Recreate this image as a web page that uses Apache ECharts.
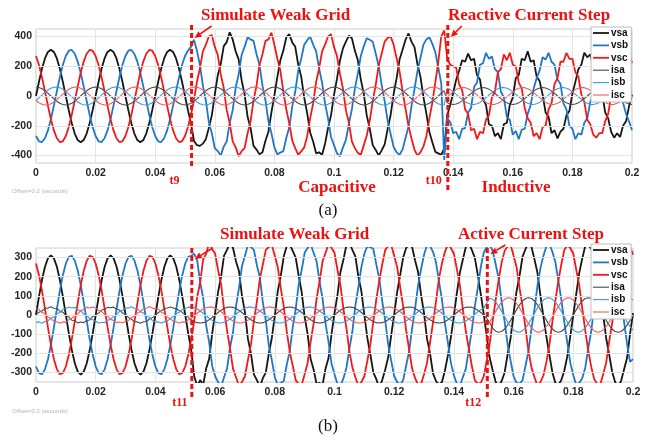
<!DOCTYPE html>
<html>
<head>
<meta charset="utf-8">
<script src="https://cdn.jsdelivr.net/npm/echarts@6/dist/echarts.min.js"></script>
<style>
  html, body { margin: 0; padding: 0; background: #ffffff; }
  #chart { width: 654px; height: 439px; }
</style>
</head>
<body>
<div id="chart"></div>
<script>
// Scope capture: one sample every millisecond, 0 .. 0.2 s
const sampleStep = 0.001;
const seriesNames = ['vsa', 'vsb', 'vsc', 'isa', 'isb', 'isc'];
const yTicksA = [-400, -200, 0, 200, 400];
const yTicksB = [-300, -200, -100, 0, 100, 200, 300];
// t9, t10 (panel a) and t11, t12 (panel b), seconds
const eventTimesA = [0.0522, 0.1382];
const eventTimesB = [0.0522, 0.1512];

// ---- (a) weak grid, then reactive current step (capacitive -> inductive)
const vsaA = [
  0, 96, 183, 252, 296, 311, 296, 252, 183, 96, 0, -96, -183, -252, -296, -311, -296, -252, -183, -96,
  0, 96, 183, 252, 296, 311, 296, 252, 183, 96, 0, -96, -183, -252, -296, -311, -296, -252, -183, -96,
  0, 96, 183, 252, 296, 311, 296, 252, 183, 96, 0, -96, -183, -300, -330, -335, -320, -290, -214, -130,
  10, 140, 215, 335, 362, 428, 380, 300, 246, 105, 12, -140, -215, -335, -360, -392, -378, -300, -240, -110,
  5, 128, 240, 305, 395, 415, 360, 330, 210, 130, -10, -115, -245, -305, -385, -378, -395, -320, -215, -130,
  8, 115, 238, 320, 365, 405, 388, 305, 240, 110, 15, -132, -220, -330, -362, -400, -365, -325, -222, -128,
  12, 118, 245, 310, 378, 420, 365, 328, 215, 130, -5, -118, -240, -310, -375, -385, -395, -350, -130, -60,
  20, 110, 170, 240, 230, 285, 240, 250, 140, 110, -20, -60, -190, -200, -270, -250, -290, -190, -180, -60,
  -10, 120, 140, 250, 240, 300, 230, 240, 130, 100, 10, -110, -140, -250, -230, -285, -240, -220, -130, -100,
  15, 95, 180, 210, 290, 260, 280, 200, 180, 60, 20, -110, -150, -240, -280, -250, -275, -200, -170, -70,
  10
];
const vsbA = [
  -269, -304, -309, -284, -231, -156, -65, 32, 127, 208, 269, 304, 309, 284, 231, 156, 65, -32, -127, -208,
  -269, -304, -309, -284, -231, -156, -65, 32, 127, 208, 269, 304, 309, 284, 231, 156, 65, -32, -127, -208,
  -269, -304, -309, -284, -231, -156, -65, 32, 127, 208, 269, 304, 330, 378, 305, 210, 70, -30, -175, -250,
  -350, -370, -400, -340, -305, -180, -95, 55, 145, 275, 330, 395, 380, 370, 280, 210, 70, -30, -170, -250,
  -345, -392, -380, -370, -280, -210, -70, 30, 170, 250, 345, 375, 400, 345, 300, 185, 90, -50, -150, -275,
  -330, -385, -405, -345, -295, -185, -90, 50, 150, 270, 335, 388, 378, 365, 285, 200, 75, -35, -165, -255,
  -342, -378, -395, -360, -282, -205, -70, 45, 165, 255, 345, 380, 395, 350, 295, 190, 85, -430, -150, -175,
  -250, -240, -290, -220, -215, -110, -80, 60, 90, 210, 220, 290, 250, 265, 180, 160, 30, -10, -140, -160,
  -260, -235, -290, -225, -220, -120, -60, 50, 120, 170, 260, 245, 290, 230, 210, 110, 80, -50, -90, -200,
  -220, -290, -250, -260, -180, -150, -40, 10, 140, 160, 250, 280, 250, 270, 185, 120, 70, -45, -120, -170,
  -230
];
const vscA = [
  269, 208, 127, 32, -65, -156, -231, -284, -309, -304, -269, -208, -127, -32, 65, 156, 231, 284, 309, 304,
  269, 208, 127, 32, -65, -156, -231, -284, -309, -304, -269, -208, -127, -32, 65, 156, 231, 284, 309, 304,
  269, 208, 127, 32, -65, -156, -231, -284, -309, -304, -269, -208, -127, -30, 95, 185, 300, 345, 400, 410,
  330, 275, 145, 55, -95, -180, -305, -345, -405, -370, -350, -250, -170, -30, 70, 210, 280, 370, 380, 425,
  345, 250, 170, 30, -90, -185, -300, -350, -395, -372, -345, -270, -150, -50, 95, 185, 300, 345, 400, 415,
  330, 268, 150, 50, -95, -180, -305, -350, -382, -395, -330, -265, -165, -35, 75, 205, 285, 365, 390, 400,
  345, 255, 165, 35, -85, -200, -285, -360, -400, -378, -340, -270, -150, -45, 90, 230, 400, 440, 250, 210,
  200, 190, 80, 40, -90, -120, -230, -220, -290, -240, -250, -160, -130, -10, 30, 160, 180, 280, 240, 290,
  210, 200, 90, 50, -80, -150, -180, -270, -250, -290, -210, -200, -90, -50, 80, 120, 230, 230, 290, 250,
  250, 160, 130, 10, -40, -160, -190, -260, -280, -250, -250, -170, -120, 0, 40, 150, 190, 260, 250, 290,
  220
];
const isaA = [
  60, 57, 49, 35, 19, 0, -19, -35, -49, -57, -60, -57, -49, -35, -19, 0, 19, 35, 49, 57,
  60, 57, 49, 35, 19, 0, -19, -35, -49, -57, -60, -57, -49, -35, -19, 0, 19, 35, 49, 57,
  60, 57, 49, 35, 19, 0, -19, -35, -49, -57, -60, -57, -49, -35, -19, 0, 19, 35, 49, 57,
  60, 57, 49, 35, 19, 0, -19, -35, -49, -57, -60, -57, -49, -35, -19, 0, 19, 35, 49, 57,
  60, 57, 49, 35, 19, 0, -19, -35, -49, -57, -60, -57, -49, -35, -19, 0, 19, 35, 49, 57,
  60, 57, 49, 35, 19, 0, -19, -35, -49, -57, -60, -57, -49, -35, -19, 0, 19, 35, 49, 57,
  60, 57, 49, 35, 19, 0, -19, -35, -49, -57, -60, -57, -49, -35, -19, 0, 19, 35, -46, -54,
  -57, -54, -46, -33, -18, 0, 18, 33, 46, 54, 57, 54, 46, 33, 18, 0, -18, -33, -46, -54,
  -57, -54, -46, -33, -18, 0, 18, 33, 46, 54, 57, 54, 46, 33, 18, 0, -18, -33, -46, -54,
  -57, -54, -46, -33, -18, 0, 18, 33, 46, 54, 57, 54, 46, 33, 18, 0, -18, -33, -46, -54,
  -57
];
const isbA = [
  -30, -12, 6, 24, 40, 52, 59, 60, 55, 45, 30, 12, -6, -24, -40, -52, -59, -60, -55, -45,
  -30, -12, 6, 24, 40, 52, 59, 60, 55, 45, 30, 12, -6, -24, -40, -52, -59, -60, -55, -45,
  -30, -12, 6, 24, 40, 52, 59, 60, 55, 45, 30, 12, -6, -24, -40, -52, -59, -60, -55, -45,
  -30, -12, 6, 24, 40, 52, 59, 60, 55, 45, 30, 12, -6, -24, -40, -52, -59, -60, -55, -45,
  -30, -12, 6, 24, 40, 52, 59, 60, 55, 45, 30, 12, -6, -24, -40, -52, -59, -60, -55, -45,
  -30, -12, 6, 24, 40, 52, 59, 60, 55, 45, 30, 12, -6, -24, -40, -52, -59, -60, -55, -45,
  -30, -12, 6, 24, 40, 52, 59, 60, 55, 45, 30, 12, -6, -24, -40, -52, -59, -60, 52, 43,
  28, 11, -6, -23, -38, -49, -56, -57, -52, -43, -28, -11, 6, 23, 38, 49, 56, 57, 52, 43,
  28, 11, -6, -23, -38, -49, -56, -57, -52, -43, -28, -11, 6, 23, 38, 49, 56, 57, 52, 43,
  28, 11, -6, -23, -38, -49, -56, -57, -52, -43, -28, -11, 6, 23, 38, 49, 56, 57, 52, 43,
  28
];
const iscA = [
  -30, -45, -55, -60, -59, -52, -40, -24, -6, 12, 30, 45, 55, 60, 59, 52, 40, 24, 6, -12,
  -30, -45, -55, -60, -59, -52, -40, -24, -6, 12, 30, 45, 55, 60, 59, 52, 40, 24, 6, -12,
  -30, -45, -55, -60, -59, -52, -40, -24, -6, 12, 30, 45, 55, 60, 59, 52, 40, 24, 6, -12,
  -30, -45, -55, -60, -59, -52, -40, -24, -6, 12, 30, 45, 55, 60, 59, 52, 40, 24, 6, -12,
  -30, -45, -55, -60, -59, -52, -40, -24, -6, 12, 30, 45, 55, 60, 59, 52, 40, 24, 6, -12,
  -30, -45, -55, -60, -59, -52, -40, -24, -6, 12, 30, 45, 55, 60, 59, 52, 40, 24, 6, -12,
  -30, -45, -55, -60, -59, -52, -40, -24, -6, 12, 30, 45, 55, 60, 59, 52, 40, 24, -6, 11,
  28, 43, 52, 57, 56, 49, 38, 23, 6, -11, -28, -43, -52, -57, -56, -49, -38, -23, -6, 11,
  28, 43, 52, 57, 56, 49, 38, 23, 6, -11, -28, -43, -52, -57, -56, -49, -38, -23, -6, 11,
  28, 43, 52, 57, 56, 49, 38, 23, 6, -11, -28, -43, -52, -57, -56, -49, -38, -23, -6, 11,
  28
];

// ---- (b) weak grid, then active current step
const vsaB = [
  0, 96, 183, 252, 296, 311, 296, 252, 183, 96, 0, -96, -183, -252, -296, -311, -296, -252, -183, -96,
  0, 96, 183, 252, 296, 311, 296, 252, 183, 96, 0, -96, -183, -252, -296, -311, -296, -252, -183, -96,
  0, 96, 183, 252, 296, 311, 296, 252, 183, 96, 0, -96, -183, -320, -370, -340, -365, -280, -230, -100,
  10, 120, 200, 310, 340, 380, 350, 280, 230, 100, 15, -125, -200, -310, -340, -375, -330, -300, -200, -120,
  -5, 125, 205, 305, 360, 370, 335, 300, 205, 120, -10, -100, -230, -285, -360, -355, -365, -280, -225, -100,
  10, 105, 225, 290, 365, 375, 340, 305, 200, 125, 0, -120, -205, -300, -335, -380, -340, -285, -220, -105,
  5, 120, 210, 300, 350, 370, 355, 285, 225, 105, 10, -125, -200, -305, -345, -365, -350, -290, -210, -115,
  -5, 115, 220, 290, 355, 375, 340, 300, 210, 110, 5, -110, -225, -290, -350, -370, -345, -300, -205, -120,
  10, 125, 205, 305, 345, 380, 355, 290, 220, 100, -10, -115, -210, -300, -355, -365, -340, -290, -215, -110,
  0, 110, 220, 295, 360, 370, 345, 305, 200, 120, 5, -120, -205, -295, -350, -375, -345, -285, -225, -100,
  10
];
const vsbB = [
  -269, -304, -309, -284, -231, -156, -65, 32, 127, 208, 269, 304, 309, 284, 231, 156, 65, -32, -127, -208,
  -269, -304, -309, -284, -231, -156, -65, 32, 127, 208, 269, 304, 309, 284, 231, 156, 65, -32, -127, -208,
  -269, -304, -309, -284, -231, -156, -65, 32, 127, 208, 269, 304, 309, 320, 285, 170, 90, -55, -140, -265,
  -320, -350, -375, -325, -280, -170, -90, 45, 140, 255, 310, 365, 355, 340, 260, 195, 65, -30, -160, -235,
  -325, -365, -355, -345, -260, -190, -65, 30, 160, 235, 325, 350, 370, 325, 280, 175, 85, -45, -140, -255,
  -310, -360, -370, -330, -275, -175, -85, 50, 145, 250, 320, 360, 355, 345, 265, 190, 70, -30, -155, -240,
  -320, -350, -365, -340, -265, -190, -70, 35, 155, 240, 315, 365, 360, 330, 275, 175, 80, -45, -145, -250,
  -315, -360, -370, -325, -280, -180, -80, 45, 140, 250, 325, 355, 365, 335, 265, 190, 70, -35, -155, -240,
  -320, -355, -360, -340, -265, -185, -70, 30, 155, 245, 310, 360, 370, 330, 275, 180, 80, -40, -145, -250,
  -315, -365, -355, -330, -275, -175, -85, 45, 145, 240, 320, 355, 365, 340, 265, 185, 75, -35, -150, -245,
  -230
];
const vscB = [
  269, 208, 127, 32, -65, -156, -231, -284, -309, -304, -269, -208, -127, -32, 65, 156, 231, 284, 309, 304,
  269, 208, 127, 32, -65, -156, -231, -284, -309, -304, -269, -208, -127, -32, 65, 156, 231, 284, 309, 304,
  269, 208, 127, 32, -65, -156, -231, -284, -309, -304, -269, -208, -127, -30, 95, 170, 290, 320, 375, 345,
  320, 235, 160, 30, -80, -175, -280, -325, -370, -350, -320, -235, -155, -30, 70, 190, 265, 340, 355, 365,
  310, 250, 140, 45, -85, -190, -265, -340, -360, -365, -310, -250, -140, -45, 85, 175, 280, 325, 370, 350,
  325, 235, 155, 30, -70, -190, -275, -325, -370, -350, -320, -240, -155, -35, 80, 180, 265, 340, 360, 365,
  310, 250, 145, 45, -80, -180, -280, -330, -365, -360, -310, -250, -145, -40, 70, 190, 270, 330, 370, 350,
  320, 240, 155, 30, -85, -175, -265, -340, -360, -355, -320, -240, -150, -30, 80, 185, 275, 335, 360, 365,
  310, 250, 140, 45, -70, -190, -275, -325, -370, -350, -315, -245, -155, -35, 75, 180, 265, 340, 365, 350,
  320, 235, 155, 35, -80, -185, -270, -335, -360, -365, -310, -250, -140, -45, 80, 190, 275, 330, 360, 355,
  315
];
const isaB = [
  3, 14, 21, 35, 36, 43, 35, 34, 20, 15, -3, -10, -27, -30, -41, -37, -40, -29, -26, -9,
  2, 10, 26, 30, 40, 38, 41, 30, 26, 10, 2, -14, -22, -35, -36, -43, -35, -34, -21, -14,
  -2, 13, 22, 34, 37, 42, 36, 33, 22, 14, -1, -11, -25, -34, -40, -42, -40, -34, -25, -13,
  0, 13, 25, 34, 40, 42, 40, 34, 25, 13, 0, -13, -25, -34, -40, -42, -40, -34, -25, -13,
  0, 13, 25, 34, 40, 42, 40, 34, 25, 13, 0, -13, -25, -34, -40, -42, -40, -34, -25, -13,
  0, 13, 25, 34, 40, 42, 40, 34, 25, 13, 0, -13, -25, -34, -40, -42, -40, -34, -25, -13,
  0, 13, 25, 34, 40, 42, 40, 34, 25, 13, 0, -13, -25, -34, -40, -42, -40, -34, -25, -13,
  0, 13, 25, 34, 40, 42, 40, 34, 25, 13, 0, -18, -40, -68, -85, -90, -86, -73, -53, -28,
  0, 28, 53, 73, 86, 90, 86, 73, 53, 28, 0, -28, -53, -73, -86, -90, -86, -73, -53, -28,
  0, 28, 53, 73, 86, 90, 86, 73, 53, 28, 0, -28, -53, -73, -86, -90, -86, -73, -53, -28,
  0
];
const isbB = [
  -38, -36, -43, -34, -31, -17, -10, 7, 13, 30, 33, 42, 37, 39, 27, 22, 5, -2, -19, -25,
  -33, -42, -38, -39, -27, -23, -6, 2, 19, 25, 38, 36, 43, 34, 32, 17, 10, -7, -13, -30,
  -36, -37, -42, -35, -32, -18, -9, 6, 14, 29, 34, 41, 42, 38, 31, 21, 9, -4, -17, -28,
  -36, -41, -42, -38, -31, -21, -9, 4, 17, 28, 36, 41, 42, 38, 31, 21, 9, -4, -17, -28,
  -36, -41, -42, -38, -31, -21, -9, 4, 17, 28, 36, 41, 42, 38, 31, 21, 9, -4, -17, -28,
  -36, -41, -42, -38, -31, -21, -9, 4, 17, 28, 36, 41, 42, 38, 31, 21, 9, -4, -17, -28,
  -36, -41, -42, -38, -31, -21, -9, 4, 17, 28, 36, 41, 42, 38, 31, 21, 9, -4, -17, -28,
  -36, -41, -42, -38, -31, -21, -9, 4, 17, 28, 36, 62, 88, 82, 67, 45, 19, -9, -37, -60,
  -78, -88, -90, -82, -67, -45, -19, 9, 37, 60, 78, 88, 90, 82, 67, 45, 19, -9, -37, -60,
  -78, -88, -90, -82, -67, -45, -19, 9, 37, 60, 78, 88, 90, 82, 67, 45, 19, -9, -37, -60,
  -78
];
const iscB = [
  32, 29, 13, 7, -11, -18, -33, -35, -43, -36, -37, -24, -18, -1, 5, 23, 28, 40, 37, 42,
  37, 24, 18, 2, -6, -23, -28, -40, -37, -42, -33, -30, -13, -7, 11, 17, 33, 35, 43, 36,
  33, 29, 14, 6, -10, -21, -32, -36, -42, -37, -36, -25, -17, -4, 9, 21, 31, 38, 42, 41,
  36, 28, 17, 4, -9, -21, -31, -38, -42, -41, -36, -28, -17, -4, 9, 21, 31, 38, 42, 41,
  36, 28, 17, 4, -9, -21, -31, -38, -42, -41, -36, -28, -17, -4, 9, 21, 31, 38, 42, 41,
  36, 28, 17, 4, -9, -21, -31, -38, -42, -41, -36, -28, -17, -4, 9, 21, 31, 38, 42, 41,
  36, 28, 17, 4, -9, -21, -31, -38, -42, -41, -36, -28, -17, -4, 9, 21, 31, 38, 42, 41,
  36, 28, 17, 4, -9, -21, -31, -38, -42, -41, -36, -45, -37, -9, 19, 45, 67, 82, 90, 88,
  78, 60, 37, 9, -19, -45, -67, -82, -90, -88, -78, -60, -37, -9, 19, 45, 67, 82, 90, 88,
  78, 60, 37, 9, -19, -45, -67, -82, -90, -88, -78, -60, -37, -9, 19, 45, 67, 82, 90, 88,
  78
];

// ---- styling
const lineStyles = {
  vsa: { color: '#161616', width: 1.8 },
  vsb: { color: '#1f77c6', width: 1.8 },
  vsc: { color: '#f41818', width: 1.8 },
  isa: { color: '#4a4a4a', width: 1.1 },
  isb: { color: '#3f98de', width: 1.1 },
  isc: { color: '#f25c5e', width: 1.1 }
};
// legend swatches: a horizontal stroke inside a 16x10 box (thick for voltages, thin for currents)
const thickSwatch = 'path://M0,0M0,4.1H16V5.9H0ZM16,10';
const thinSwatch = 'path://M0,0M0,4.45H16V5.55H0ZM16,10';
const gridLineColor = '#e4e4e4';
const annotRed = '#f01010';
const tickFont = { fontFamily: '"Liberation Sans", Arial, sans-serif', fontWeight: 'bold', fontSize: 10.5, color: '#262626' };

const toPairs = arr => arr.map((v, i) => [+(i * sampleStep).toFixed(3), v]);

function panelSeries(columns, axisIndex, yTicks) {
  const list = [{
    type: 'line', xAxisIndex: axisIndex, yAxisIndex: axisIndex, data: [],
    silent: true, z: 1, symbol: 'none',
    markLine: {
      symbol: ['none', 'none'], silent: true, animation: false,
      label: { show: false },
      lineStyle: { color: gridLineColor, width: 1, type: 'solid' },
      data: yTicks.map(v => ({ yAxis: v }))
    }
  }];
  seriesNames.forEach((name, j) => {
    list.push({
      type: 'line', name, xAxisIndex: axisIndex, yAxisIndex: axisIndex,
      data: toPairs(columns[j]),
      symbol: 'none', showSymbol: false, clip: true, z: 2,
      lineStyle: { color: lineStyles[name].color, width: lineStyles[name].width },
      itemStyle: { color: lineStyles[name].color },
      emphasis: { disabled: true }
    });
  });
  return list;
}

function xAxisDef(gridIndex) {
  return {
    type: 'value', gridIndex, min: 0, max: 0.2, interval: 0.02,
    axisLine: { show: false }, axisTick: { show: false },
    splitLine: { show: true, lineStyle: { color: gridLineColor, width: 1 } },
    axisLabel: Object.assign({ margin: 5, formatter: v => String(+v.toFixed(2)) }, tickFont)
  };
}
function yAxisDef(gridIndex, lim, labelStep) {
  return {
    type: 'value', gridIndex, min: -lim, max: lim, interval: 50,
    axisLine: { show: false }, axisTick: { show: false }, splitLine: { show: false },
    axisLabel: Object.assign({ margin: 4, showMinLabel: true, showMaxLabel: true,
      formatter: v => (Math.round(v) % labelStep === 0 ? String(Math.round(v)) : '') }, tickFont)
  };
}
function legendDef(top) {
  return {
    left: 591, top, orient: 'vertical', selectedMode: false, z: 20,
    data: seriesNames.map(name => ({ name, icon: name.charAt(0) === 'v' ? thickSwatch : thinSwatch })),
    itemWidth: 16, itemHeight: 10, itemGap: 2.4, padding: [1, 3, 2, 2],
    backgroundColor: '#ffffff', borderColor: '#bdbdbd', borderWidth: 1, borderRadius: 0,
    textStyle: { fontFamily: '"Liberation Sans", Arial, sans-serif', fontWeight: 'bold', fontSize: 10, lineHeight: 10, color: '#111', padding: [0, 0, 0, -3] }
  };
}

const chart = echarts.init(document.getElementById('chart'), null, { renderer: 'canvas' });
chart.setOption({
  animation: false,
  backgroundColor: '#ffffff',
  grid: [
    { left: 36, top: 29, width: 596, height: 134, show: true, borderColor: '#cccccc', borderWidth: 1, backgroundColor: '#ffffff', containLabel: false, outerBoundsMode: 'none' },
    { left: 36, top: 248, width: 597, height: 134, show: true, borderColor: '#cccccc', borderWidth: 1, backgroundColor: '#ffffff', containLabel: false, outerBoundsMode: 'none' }
  ],
  xAxis: [xAxisDef(0), xAxisDef(1)],
  yAxis: [yAxisDef(0, 450, 200), yAxisDef(1, 350, 100)],
  legend: [legendDef(27), legendDef(244)],
  series: panelSeries([vsaA, vsbA, vscA, isaA, isbA, iscA], 0, yTicksA)
    .concat(panelSeries([vsaB, vsbB, vscB, isaB, isbB, iscB], 1, yTicksB))
});

// ---- annotations placed on the event times through the x scales
const serifBold = size => `bold ${size}px "Liberation Serif", "Times New Roman", serif`;
function label(str, x, y, font, fill, align) {
  return { type: 'text', x, y, silent: true, z: 100,
    style: { text: str, font, fill, align: align || 'left', verticalAlign: 'middle' } };
}
function dashed(x, y1, y2) {
  return { type: 'line', silent: true, z: 100,
    shape: { x1: x, y1, x2: x, y2 },
    style: { stroke: annotRed, lineWidth: 3, lineDash: [5, 3] } };
}
function arrow(x1, y1, x2, y2) {
  const ang = Math.atan2(y2 - y1, x2 - x1), len = 7, half = 3.2;
  const bx = x2 - len * Math.cos(ang), by = y2 - len * Math.sin(ang);
  const px = -Math.sin(ang) * half, py = Math.cos(ang) * half;
  return [
    { type: 'line', silent: true, z: 100, shape: { x1, y1, x2: bx, y2: by }, style: { stroke: annotRed, lineWidth: 1.6 } },
    { type: 'polygon', silent: true, z: 100, shape: { points: [[x2, y2], [bx + px, by + py], [bx - px, by - py]] }, style: { fill: annotRed } }
  ];
}

const xa = eventTimesA.map(t => chart.convertToPixel({ xAxisIndex: 0 }, t));
const xb = eventTimesB.map(t => chart.convertToPixel({ xAxisIndex: 1 }, t));

const elements = [
  dashed(xa[0], 25, 168), dashed(xa[1], 25, 193),
  dashed(xb[0], 248, 400), dashed(xb[1], 248, 398),
  ...arrow(xa[0] + 20, 26, xa[0] + 3, 38),
  ...arrow(xa[1] + 14, 26, xa[1] + 3, 37),
  ...arrow(xb[0] + 21, 248, xb[0] + 3, 259),
  ...arrow(xb[1] + 18, 245, xb[1] + 3, 254),
  label('Simulate Weak Grid', 201, 16, serifBold(17), annotRed),
  label('Reactive Current Step', 448, 16, serifBold(17), annotRed),
  label('Capacitive', 337, 188, serifBold(17), annotRed, 'center'),
  label('Inductive', 516, 188, serifBold(17), annotRed, 'center'),
  label('t9', xa[0] - 17, 181, serifBold(12), annotRed, 'center'),
  label('t10', xa[1] - 14, 181, serifBold(12), annotRed, 'center'),
  label('Simulate Weak Grid', 220, 235, serifBold(17), annotRed),
  label('Active Current Step', 458, 235, serifBold(17), annotRed),
  label('t11', xb[0] - 12, 403, serifBold(12), annotRed, 'center'),
  label('t12', xb[1] - 14, 403, serifBold(12), annotRed, 'center'),
  label('(a)', 328, 211, '17px "Liberation Serif", "Times New Roman", serif', '#111', 'center'),
  label('(b)', 328, 427, '17px "Liberation Serif", "Times New Roman", serif', '#111', 'center'),
  label('Offset=0.2 (seconds)', 12, 191, '6px "Liberation Sans", Arial, sans-serif', '#b4b4b4'),
  label('Offset=0.2 (seconds)', 12, 411, '6px "Liberation Sans", Arial, sans-serif', '#b4b4b4')
];
chart.setOption({ graphic: { elements } });
</script>
</body>
</html>
